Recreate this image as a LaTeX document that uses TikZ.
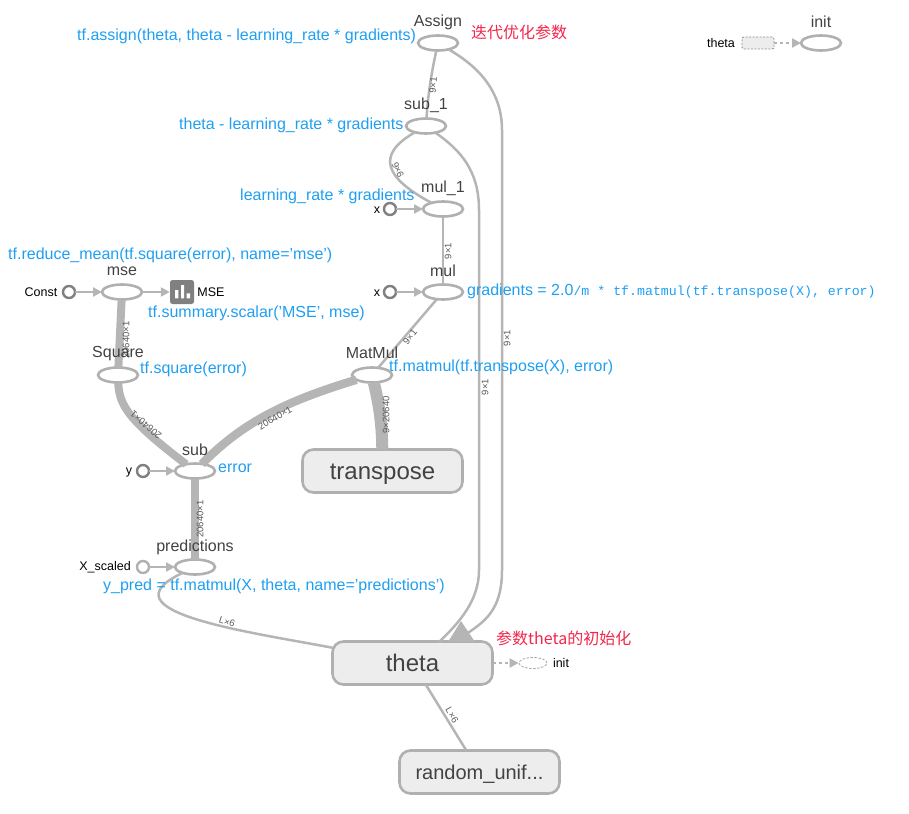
\documentclass[tikz,border=0pt]{standalone}
\usepackage{fontspec}
\setmainfont{Liberation Sans}
\newfontfamily\cjk{Noto Sans CJK SC}
\newfontfamily\monof{Liberation Mono}
\usetikzlibrary{shapes.geometric,arrows.meta}
\definecolor{edgec}{HTML}{B5B5B5}
\definecolor{opc}{HTML}{B0B0B0}
\definecolor{bluec}{HTML}{1E9FF2}
\definecolor{redc}{HTML}{F2264B}
\definecolor{labc}{HTML}{424242}
\tikzset{
  opnode/.style={draw=opc,line width=2.6pt,ellipse,fill=white,minimum width=40pt,minimum height=15pt,inner sep=0pt,outer sep=0pt},
  inp/.style={circle,draw=#1,line width=2.4pt,fill=white,minimum size=12pt,inner sep=0pt,outer sep=0pt},
  inp/.default={gray},
  group/.style={draw=opc,line width=2.6pt,rounded corners=11pt,fill=black!7,minimum width=160pt,minimum height=43pt,inner sep=0pt,outer sep=0pt,text=labc,font=\fontsize{#1}{26}\selectfont},
  group/.default={24},
  opname/.style={text=labc,font=\fontsize{16}{18}\selectfont,inner sep=0pt},
  small/.style={text=black,font=\fontsize{12.5}{14}\selectfont,inner sep=0pt},
  note/.style={text=bluec,font=\fontsize{16}{18}\selectfont,inner sep=0pt,anchor=west},
  rednote/.style={text=redc,font=\cjk\fontsize{16}{18}\selectfont,inner sep=0pt,anchor=west},
  edge/.style={draw=edgec,line width=#1},
  edge/.default={2.5pt},
  tip/.style={edgec,line width=2.2pt,-{Triangle[length=9pt,width=9pt]}},
  dtip/.style={edgec,line width=2.2pt,dash pattern=on 3pt off 3pt,-{Triangle[length=9pt,width=9pt]}},
  dim/.style={text=black!65,font=\fontsize{9.5}{10}\selectfont,inner sep=0pt},
}
\begin{document}
\begin{tikzpicture}[x=1pt,y=-1pt]
\useasboundingbox (0,0) rectangle (909,813);
% nodes
\node[opnode] (assign) at (438,43) {};
\node[opnode] (sub1) at (426,126) {};
\node[opnode] (mul1) at (443,209) {};
\node[opnode] (mul) at (443,292) {};
\node[opnode] (mse) at (122,292) {};
\node[opnode] (square) at (118,375) {};
\node[opnode] (matmul) at (372,375) {};
\node[opnode] (sub) at (195,471) {};
\node[opnode] (pred) at (195,567) {};
\node[opnode] (initb) at (821,43) {};
\node[inp=gray] (const) at (69,292) {};
\node[inp=gray] (x1) at (390,209) {};
\node[inp=gray] (x2) at (390,292) {};
\node[inp=gray] (y) at (143,471) {};
\node[inp=opc] (xs) at (143,567) {};
\node[group] (transpose) at (382.5,471) {\raisebox{-8.5pt}[0pt][0pt]{transpose}};
\node[group] (theta) at (412.5,663) {\raisebox{-8.5pt}[0pt][0pt]{theta}};
\node[group=20] (rand) at (479.5,772) {\raisebox{-7pt}[0pt][0pt]{random\_unif...}};
\node[draw=black!45,dashed,line width=.8pt,dash pattern=on 2pt off 1.5pt,fill=black!7,rounded corners=2pt,minimum width=32pt,minimum height=12pt,inner sep=0pt] (thetab) at (758,43) {};
\node[draw=black!35,dashed,line width=.8pt,dash pattern=on 2.5pt off 1.5pt,ellipse,minimum width=28pt,minimum height=11pt,inner sep=0pt] (inits) at (533,663) {};
\node[fill=black!50,rounded corners=2.5pt,minimum size=24pt,inner sep=0pt] (icon) at (182,292) {};
\fill[white] (175,290) rectangle (178.3,298.3) (181,285) rectangle (184,298.3) (186.7,293.3) rectangle (190,298.3);
% edges
\draw[edge] (sub1) .. controls (428,95) and (431,75) .. (assign);
\draw[edge] (assign) .. controls (470,62) and (502,85) .. (502,130) -- (502,570) .. controls (502,610) and (485,622) .. (463,636);
\draw[edge] (sub1) .. controls (460,150) and (479,170) .. (479,210) -- (479,570) .. controls (479,600) and (460,622) .. (439,642);
\draw[edge] (sub1) .. controls (375,155) and (385,178) .. (mul1);
\draw[edge] (mul1) -- (mul);
\draw[edge] (mul) -- (matmul);
\draw[edge=8pt] (mse) -- (square);
\draw[edge=8pt] (square) .. controls (119,405) and (128,420) .. (sub);
\draw[edge=8.5pt] (matmul) .. controls (290,400) and (245,420) .. (sub);
\draw[edge=12pt] (matmul) .. controls (378,400) and (382,420) .. (transpose);
\draw[edge=8pt] (sub) -- (pred);
\draw[edge] (theta) .. controls (250,632) and (100,612) .. (pred);
\draw[edge] (rand) -- (theta);
\fill[edgec] (461,621) -- (448,642) -- (475,642) -- cycle;
\draw[tip] (const) -- (mse);
\draw[tip] (mse) -- (icon);
\draw[tip] (x1) -- (mul1);
\draw[tip] (x2) -- (mul);
\draw[tip] (y) -- (sub);
\draw[tip] (xs) -- (pred);
\draw[dtip] (thetab) -- (initb);
\draw[dtip] (theta) -- (inits);
% dims
\node[dim,rotate=85] (d1) at (433,85) {9×1};
\node[dim,rotate=-65] (d2) at (398,170) {9×6};
\node[dim,rotate=90] (d3) at (448,251) {9×1};
\node[dim,rotate=52] (d4) at (410,337) {9×1};
\node[dim,rotate=90] (d5) at (507,338) {9×1};
\node[dim,rotate=90] (d6) at (485,387) {9×1};
\node[dim,rotate=90] (d7) at (126,340) {20640×1};
\node[dim,rotate=140] (d8) at (146,425) {20640×1};
\node[dim,rotate=30] (d9) at (275,418) {20640×1};
\node[dim,rotate=90] (d10) at (386,415) {9×20640};
\node[dim,rotate=90] (d11) at (200,519) {20640×1};
\node[dim,rotate=-18] (d12) at (227,622) {L×6};
\node[dim,rotate=-60] (d13) at (452,715) {L×6};
% names
\node[opname] (l1) at (438,22.5) {Assign};
\node[opname] (l2) at (426,105) {sub\_1};
\node[opname] (l3) at (443,188) {mul\_1};
\node[opname] (l4) at (443,271) {mul};
\node[opname] (l5) at (122,271) {mse};
\node[opname] (l6) at (118,354) {Square};
\node[opname] (l7) at (372,353) {MatMul};
\node[opname] (l8) at (195,450) {sub};
\node[opname] (l9) at (195,547) {predictions};
\node[opname] (l10) at (821,22) {init};
\node[small] (s1) at (41,292.5) {Const};
\node[small] (s2) at (377,210) {x};
\node[small] (s3) at (377,293) {x};
\node[small] (s4) at (129,472) {y};
\node[small] (s5) at (105,567) {X\_scaled};
\node[small] (s6) at (211,292.5) {MSE};
\node[small] (s7) at (721,43.5) {theta};
\node[small] (s8) at (561,663.5) {init};
% notes
\node[note] (n1) at (77,36) {tf.assign(theta, theta - learning\_rate * gradients)};
\node[note] (n2) at (179,125) {theta - learning\_rate * gradients};
\node[note] (n3) at (240,196) {learning\_rate * gradients};
\node[note] (n4) at (8,255) {tf.reduce\_mean(tf.square(error), name='mse')};
\node[note] (n5) at (148,313) {tf.summary.scalar('MSE', mse)};
\node[note] (n6) at (467,291) {gradients = 2.0{\monof\fontsize{13.25}{16}\selectfont /m * tf.matmul(tf.transpose(X), error)}};
\node[note] (n7) at (389,367) {tf.matmul(tf.transpose(X), error)};
\node[note] (n8) at (140,369) {tf.square(error)};
\node[note] (n9) at (218,468) {error};
\node[note] (n10) at (103,586) {y\_pred = tf.matmul(X, theta, name='predictions')};
\node[rednote] (r1) at (471,32) {迭代优化参数};
\node[rednote] (r2) at (496,638) {参数theta的初始化};
\end{tikzpicture}
\end{document}
